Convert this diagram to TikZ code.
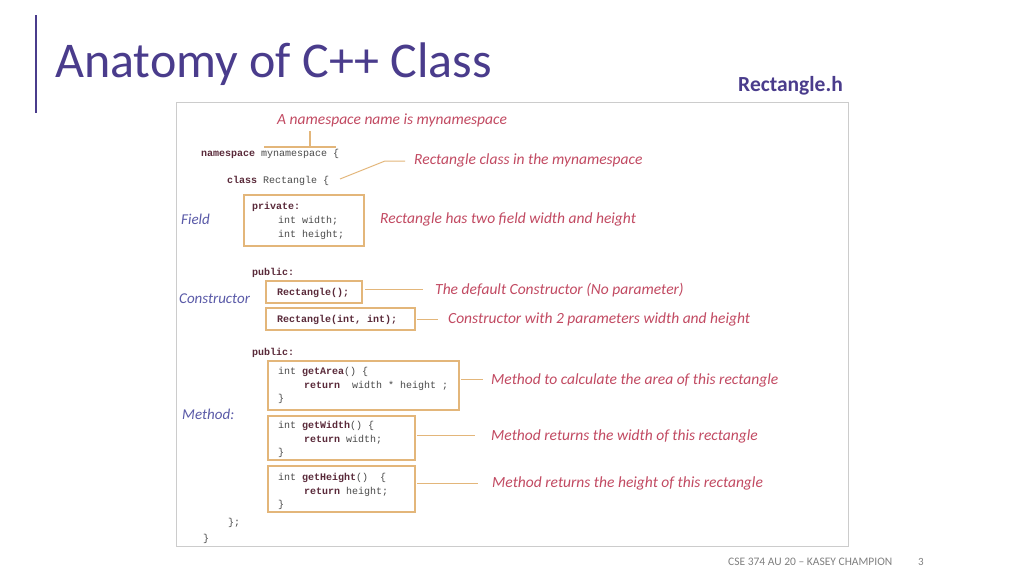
\documentclass[tikz,border=0pt]{standalone}
\usepackage{fontspec}
\setmainfont{Carlito}
\setmonofont{Liberation Mono}
\usepackage{xcolor}
\definecolor{titlepurple}{HTML}{4A3C8C}
\definecolor{notered}{HTML}{C24A62}
\definecolor{lblblue}{HTML}{5A5AA8}
\definecolor{boxorange}{HTML}{E3B67A}
\definecolor{codegray}{HTML}{4A4A4A}
\definecolor{codekw}{HTML}{5A2A3A}
\usetikzlibrary{positioning}
\tikzset{
  code/.style={anchor=base west,inner sep=0pt,font=\ttfamily\fontsize{10}{12}\selectfont,text=codegray},
  note/.style={anchor=base west,inner sep=0pt,font=\itshape\fontsize{15.5}{18}\selectfont,text=notered},
  lbl/.style={anchor=base west,inner sep=0pt,font=\itshape\fontsize{15}{18}\selectfont,text=lblblue},
  codebox/.style={draw=boxorange,line width=1.2pt},
  lead/.style={draw=boxorange,line width=1pt},
}
\newcommand{\kw}[1]{\textcolor{codekw}{\textbf{#1}}}
\begin{document}
\begin{tikzpicture}[x=1pt,y=-1pt]
  \useasboundingbox (0,0) rectangle (1024,576);
  \fill[white] (0,0) rectangle (1024,576);
  % slide head
  \draw[titlepurple,line width=1.2pt] (36,15) -- (36,113);
  \node[anchor=base west,inner sep=0pt,text=titlepurple,font=\fontsize{50}{56}\selectfont] (title) at (55,77) {Anatomy of C++ Class};
  \node[anchor=base west,inner sep=0pt,text=titlepurple,font=\bfseries\fontsize{21.5}{24}\selectfont] (file) at (738,91) {Rectangle.h};
  % picture frame
  \draw[black!20,line width=1pt] (176,102) rectangle (848,546);
  % namespace
  \node[note] (nsnote) at (277,124) {A namespace name is mynamespace};
  \draw[lead,line width=2.5pt] (264,147) -- (336,147) (310,147) -- (310,131);
  \node[code] (ns) at (201,156) {\kw{namespace} mynamespace \{};
  \node[code] (cls) at (227,183) {\kw{class} Rectangle \{};
  \coordinate (clsend) at (340,179);
  \node[note] (clsnote) at (414,164) {Rectangle class in the mynamespace};
  \draw[lead] (clsend) -- (385,161) -- (405,161);
  % field
  \draw[codebox] (244,195) rectangle (364,246);
  \node[code] (priv) at (252,209) {\kw{private:}};
  \node[code] (fw) at (278,223) {int width;};
  \node[code] (fh) at (278,237) {int height;};
  \node[lbl] (field) at (181,224) {Field};
  \node[note] (fieldnote) at (380,223) {Rectangle has two field width and height};
  % constructors
  \node[code] (pub1) at (252,275) {\kw{public:}};
  \node[lbl] (ctor) at (179,303) {Constructor};
  \draw[codebox] (266,281) rectangle (362,303);
  \node[code] (c1) at (277,295) {\kw{Rectangle();}};
  \node[note] (c1note) at (435,294) {The default Constructor (No parameter)};
  \draw[lead] (365,289) -- (423,289);
  \draw[codebox] (266,308) rectangle (415,330);
  \node[code] (c2) at (277,322) {\kw{Rectangle(int, int);}};
  \node[note] (c2note) at (448,323) {Constructor with 2 parameters width and height};
  \draw[lead] (417,319) -- (438,319);
  % methods
  \node[code] (pub2) at (252,355) {\kw{public:}};
  \node[lbl] (meth) at (182,419) {Method:};
  \draw[codebox] (268,361) rectangle (459,410);
  \node[code] at (278,374) {int \kw{getArea}() \{};
  \node[code] at (304,388) {\kw{return} \ width * height ;};
  \node[code] at (278,401) {\}};
  \node[note] (m1note) at (491,384) {Method to calculate the area of this rectangle};
  \draw[lead] (461,379) -- (483,379);
  \draw[codebox] (268,416) rectangle (415,460);
  \node[code] at (278,428) {int \kw{getWidth}() \{};
  \node[code] at (304,442) {\kw{return} width;};
  \node[code] at (278,455) {\}};
  \node[note] (m2note) at (491,440) {Method returns the width of this rectangle};
  \draw[lead] (417,435) -- (475,435);
  \draw[codebox] (268,466) rectangle (415,512);
  \node[code] at (278,480) {int \kw{getHeight}() \ \{};
  \node[code] at (304,494) {\kw{return} height;};
  \node[code] at (278,507) {\}};
  \node[note] (m3note) at (492,487) {Method returns the height of this rectangle};
  \draw[lead] (417,483) -- (478,483);
  \node[code] at (228,525) {\};};
  \node[code] at (203,541) {\}};
  % footer
  \node[anchor=base west,inner sep=0pt,text=black!50,font=\fontsize{11.5}{13}\selectfont] (foot) at (728,565) {CSE 374 AU 20 – KASEY CHAMPION};
  \node[anchor=base west,inner sep=0pt,text=black!50,font=\fontsize{11}{13}\selectfont] (page) at (918,565) {3};
\end{tikzpicture}
\end{document}
